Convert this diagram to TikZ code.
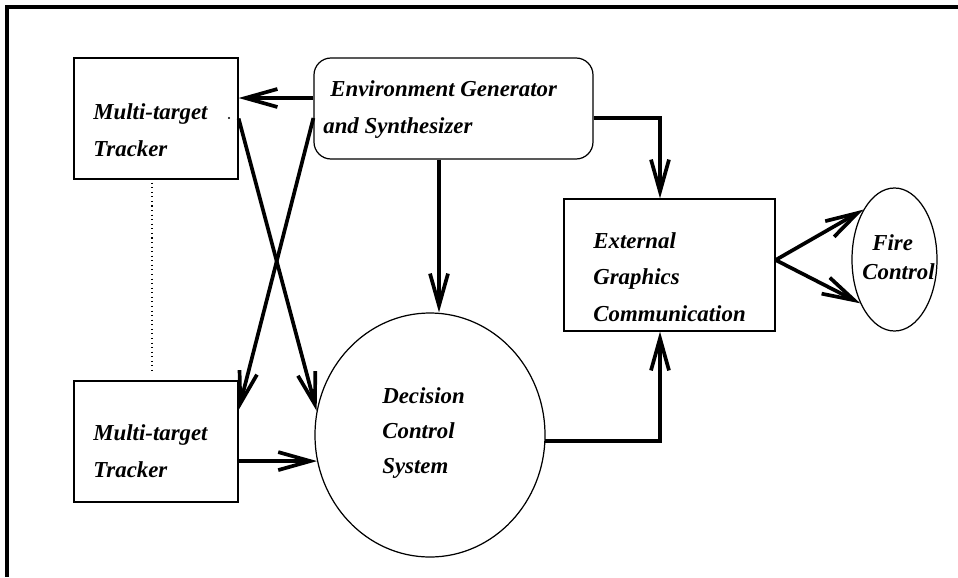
\documentclass[tikz,border=0pt]{standalone}
\usepackage{fontspec}
\setmainfont{Liberation Serif}
\usetikzlibrary{shapes.geometric,arrows.meta}

\begin{document}
\begin{tikzpicture}[
  blk/.style={rectangle, draw, line width=0.7pt, inner sep=0pt},
  lbl/.style={anchor=base west, align=left, inner sep=0pt, font=\fontsize{13}{20.5}\selectfont\bfseries\itshape},
  arr/.style={-{Straight Barb[length=6.4mm, width=3.6mm]}, line width=2.1pt}
]
  \useasboundingbox (0,0) rectangle (19.16,-11.54);
  \draw[line width=2.2pt] (19.16,-0.14) -| (0.14,-11.54);

  \node[blk, minimum width=3.28cm, minimum height=2.42cm] (trkA) at (3.12,-2.37) {};
  \node[blk, minimum width=3.28cm, minimum height=2.42cm] (trkB) at (3.12,-8.83) {};
  \node[blk, rounded corners=3.4mm, minimum width=5.58cm, minimum height=2.02cm] (env) at (9.07,-2.17) {};
  \node[blk, ellipse, minimum width=4.6cm, minimum height=4.88cm] (dcs) at (8.6,-8.7) {};
  \node[blk, minimum width=4.22cm, minimum height=2.64cm] (ext) at (13.39,-5.3) {};
  \node[blk, ellipse, minimum width=1.7cm, minimum height=2.86cm] (fire) at (17.89,-5.19) {};

  % base anchor sits on the last line
  \node[lbl] (trkAtxt) at (1.86,-3.12) {Multi-target\\Tracker};
  \node[lbl] (trkBtxt) at (1.86,-9.54) {Multi-target\\Tracker};
  \node[lbl] (envtxt) at (6.46,-2.66) {\hspace*{1.4mm}Environment Generator\\and Synthesizer};
  \node[lbl, font=\fontsize{13}{19.8}\selectfont\bfseries\itshape] (dcstxt) at (7.64,-9.46) {Decision\\Control\\System};
  \node[lbl] (exttxt) at (11.86,-6.42) {External\\Graphics\\Communication};
  \node[lbl, font=\fontsize{13}{16.4}\selectfont\bfseries\itshape] (firetxt) at (17.24,-5.58) {\hspace*{2mm}Fire\\Control};

  \fill (4.58,-2.36) circle (0.6pt);
  \draw[dotted, line width=0.6pt, shorten <=0.6mm, shorten >=1.2mm] ([xshift=-0.8mm]trkA.south) -- ([xshift=-0.8mm]trkB.north);

  \draw[arr] ([yshift=2.1mm]env.west) -- ([yshift=2.1mm]env.west -| trkA.east);
  \draw[arr] ([yshift=-1.9mm]env.west) -- ([yshift=6.3mm]trkB.east);
  \draw[arr] (trkA.east) -- (dcs.168);
  \draw[arr] ([xshift=-2.9mm]env.south) -- ([xshift=-2.9mm]env.south |- dcs.north);
  \draw[arr] (trkB.east |- dcs.193) -- (dcs.193);
  \draw[arr] (dcs.-3) -| ([xshift=-1.9mm]ext.south);
  \draw[arr] ([yshift=-1.9mm]env.east) -| ([xshift=-1.9mm]ext.north);
  \draw[arr] ([yshift=1mm]ext.east) -- (fire.122);
  \draw[arr] ([yshift=1mm]ext.east) -- (fire.232);
\end{tikzpicture}
\end{document}
